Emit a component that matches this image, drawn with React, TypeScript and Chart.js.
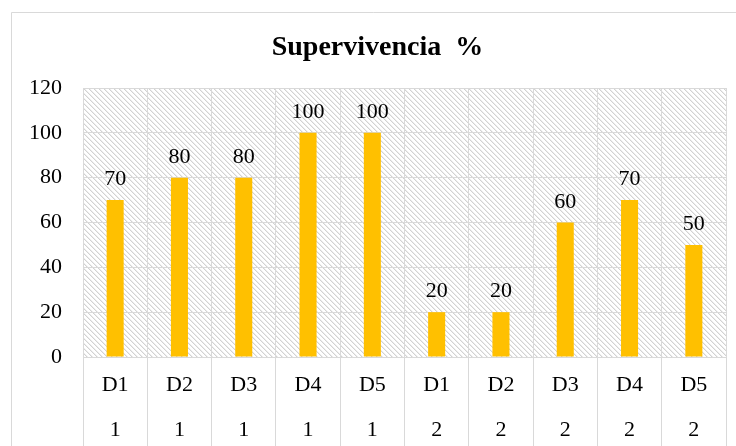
import React, { useEffect, useRef } from "react";
import { Chart, registerables } from "chart.js";

Chart.register(...registerables);

const doses = ["D1", "D2", "D3", "D4", "D5", "D1", "D2", "D3", "D4", "D5"];
const groups = ["1", "1", "1", "1", "1", "2", "2", "2", "2", "2"];
const survival = [70, 80, 80, 100, 100, 20, 20, 60, 70, 50];
const yTicks = [0, 20, 40, 60, 80, 100, 120];
const titleText = "Supervivencia  %";

const FONT = "'Liberation Serif', 'Times New Roman', serif";
const GRID = "#d9d9d9";

function makePattern(ctx: CanvasRenderingContext2D) {
  const c = document.createElement("canvas");
  const n = 5;
  c.width = n;
  c.height = n;
  const p = c.getContext("2d")!;
  p.fillStyle = "#ffffff";
  p.fillRect(0, 0, n, n);
  for (let i = 0; i < n; i++) {
    p.fillStyle = "#d2d2d2";
    p.fillRect(i, i, 1, 1);
    p.fillStyle = "#ededed";
    p.fillRect((i + 1) % n, i, 1, 1);
  }
  return ctx.createPattern(c, "repeat");
}

const decorPlugin = {
  id: "decor",
  beforeDraw(chart: any) {
    const { ctx, chartArea } = chart;
    ctx.save();
    ctx.fillStyle = "#ffffff";
    ctx.fillRect(0, 0, chart.width, chart.height);
    ctx.strokeStyle = GRID;
    ctx.lineWidth = 1;
    ctx.beginPath();
    ctx.moveTo(11.5, chart.height);
    ctx.lineTo(11.5, 12.5);
    ctx.lineTo(chart.width, 12.5);
    ctx.stroke();
    const pat = makePattern(ctx);
    if (pat) {
      ctx.fillStyle = pat;
      ctx.fillRect(chartArea.left, chartArea.top, chartArea.right - chartArea.left, chartArea.bottom - chartArea.top);
    }
    ctx.fillStyle = "#000000";
    ctx.font = `bold 28px ${FONT}`;
    ctx.textAlign = "center";
    ctx.textBaseline = "alphabetic";
    ctx.fillText(titleText, 377.5, 55);
    ctx.restore();
  },
  afterDatasetsDraw(chart: any) {
    const { ctx } = chart;
    const meta = chart.getDatasetMeta(0);
    ctx.save();
    ctx.fillStyle = "#000000";
    ctx.font = `22px ${FONT}`;
    ctx.textAlign = "center";
    ctx.textBaseline = "alphabetic";
    meta.data.forEach((bar: any, i: number) => {
      ctx.fillText(String(survival[i]), bar.x, bar.y - 15);
    });
    ctx.restore();
  },
};

export default function App() {
  const ref = useRef<HTMLCanvasElement | null>(null);
  useEffect(() => {
    if (!ref.current) return;
    const chart = new Chart(ref.current, {
      type: "bar",
      data: {
        labels: doses.map((d, i) => [d, groups[i]]),
        datasets: [
          {
            data: survival,
            backgroundColor: "#FFC000",
            borderWidth: 0,
            categoryPercentage: 1,
            barPercentage: 0.265,
          },
        ],
      },
      options: {
        responsive: false,
        animation: false,
        devicePixelRatio: 1,
        layout: { padding: { left: 0, top: 88, right: 10, bottom: 0 } },
        plugins: {
          legend: { display: false },
          title: { display: false },
          tooltip: { enabled: false },
        },
        scales: {
          x: {
            grid: {
              color: GRID,
              lineWidth: 1,
              offset: true,
              drawTicks: true,
              tickLength: 89,
            },
            border: { display: true, color: GRID },
            ticks: {
              color: "#000000",
              font: { family: FONT, size: 22, lineHeight: "45px" as any },
              padding: -83,
              maxRotation: 0,
              autoSkip: false,
            },
            afterFit: (s: any) => {
              s.height = 89;
            },
          },
          y: {
            min: 0,
            max: 120,
            afterBuildTicks: (s: any) => {
              s.ticks = yTicks.map((v) => ({ value: v }));
            },
            grid: { color: GRID, lineWidth: 1, drawTicks: false },
            border: { display: true, color: GRID },
            ticks: {
              color: "#000000",
              font: { family: FONT, size: 22 },
              padding: 21,
            },
            afterFit: (s: any) => {
              s.width = 83;
            },
          },
        },
      },
      plugins: [decorPlugin],
    });
    return () => chart.destroy();
  }, []);
  return (
    <div style={{ position: "fixed", left: 0, top: 0, width: 736, height: 446 }}>
      <canvas ref={ref} width={736} height={446} style={{ width: 736, height: 446, display: "block" }} />
    </div>
  );
}
